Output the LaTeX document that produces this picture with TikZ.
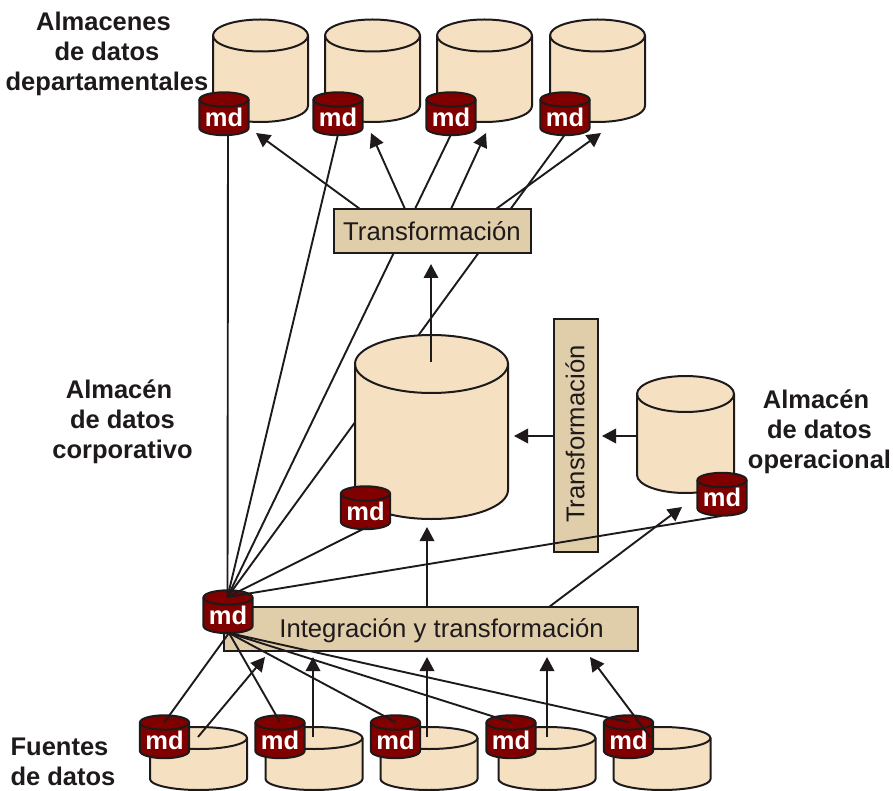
\documentclass[tikz,border=0pt]{standalone}
\usepackage{fontspec}
\setmainfont{Liberation Sans}
\usetikzlibrary{arrows.meta,calc}
\definecolor{cream}{HTML}{F5E1C2}
\definecolor{tanbox}{HTML}{E0CDAA}
\definecolor{mdred}{HTML}{800000}
\definecolor{ink}{HTML}{1E1A1B}
\tikzset{
  link/.style={draw=ink,line width=1.9pt},
  flow/.style={draw=ink,line width=1.9pt,-{Triangle[length=14pt,width=14.5pt,fill=ink]}},
  outline/.style={draw=ink,line width=2pt,line join=round},
  procbox/.style={draw=ink,line width=2pt,fill=tanbox,text=ink,inner sep=0pt,font=\fontsize{25.7}{30}\selectfont},
  caption/.style={align=center,text=ink,inner sep=0pt,font=\fontsize{25.5}{30}\selectfont\bfseries}
}
% \cyl{name}{cx}{ytop}{ybottom}{rx}{ry}{fill}
\newcommand{\cyl}[7]{%
  \pgfmathsetmacro{\xl}{#2-#5}\pgfmathsetmacro{\xr}{#2+#5}%
  \pgfmathsetmacro{\kx}{0.5523*#5}\pgfmathsetmacro{\ky}{0.5523*#6}%
  \pgfmathsetmacro{\xla}{#2-\kx}\pgfmathsetmacro{\xra}{#2+\kx}%
  \pgfmathsetmacro{\tu}{#3-#6}\pgfmathsetmacro{\td}{#3+#6}\pgfmathsetmacro{\bd}{#4+#6}%
  \pgfmathsetmacro{\tua}{#3-\ky}\pgfmathsetmacro{\tda}{#3+\ky}\pgfmathsetmacro{\bda}{#4+\ky}%
  \path[outline,fill=#7] (\xl,#3) -- (\xl,#4)
    .. controls (\xl,\bda) and (\xla,\bd) .. (#2,\bd)
    .. controls (\xra,\bd) and (\xr,\bda) .. (\xr,#4)
    -- (\xr,#3)
    .. controls (\xr,\tua) and (\xra,\tu) .. (#2,\tu)
    .. controls (\xla,\tu) and (\xl,\tua) .. (\xl,#3) -- cycle;
  \path[outline] (\xl,#3)
    .. controls (\xl,\tda) and (\xla,\td) .. (#2,\td)
    .. controls (\xra,\td) and (\xr,\tda) .. (\xr,#3);
  \pgfmathsetmacro{\cy}{(\tu+\bd)/2}%
  \pgfmathsetmacro{\hh}{\bd-\tu}\pgfmathsetmacro{\ww}{2*#5}%
  \node[inner sep=0pt,minimum width=\ww pt,minimum height=\hh pt] (#1) at (#2,\cy) {};
}
% \mdcyl{name}{cx}{ytop-of-shape}
\newcommand{\mdcyl}[3]{%
  \pgfmathsetmacro{\ya}{#3+7.5}\pgfmathsetmacro{\yb}{#3+36}\pgfmathsetmacro{\yt}{#3+25}%
  \cyl{#1}{#2}{\ya}{\yb}{24.6}{7.2}{mdred}%
  \node[inner sep=0pt,text=white,font=\fontsize{25.5}{30}\selectfont\bfseries] (#1txt) at (#2,\yt) {md};
}
\begin{document}
\begin{tikzpicture}[x=1pt,y=-1pt]
\useasboundingbox (0,0) rectangle (893,791);

% integration box and central metadata
\node[procbox,minimum width=414pt,minimum height=44pt,anchor=north west,text depth=0pt] (integ) at (223,606) {};
\node[text=ink,inner sep=0pt,font=\fontsize{25.7}{30}\selectfont] (integtxt) at (441.5,630.5) {Integración y transformación};
\mdcyl{mdC}{228}{590}
\coordinate (hubIn) at (227.5,597);
\coordinate (hubOut) at (229,633);

% top data marts
\cyl{dm1}{260.5}{35.5}{106}{47.5}{16}{cream}
\cyl{dm2}{372.5}{35.5}{106}{47.5}{16}{cream}
\cyl{dm3}{484.5}{35.5}{106}{47.5}{16}{cream}
\cyl{dm4}{597.5}{35.5}{106}{47.5}{16}{cream}
\mdcyl{md1}{224}{92}
\mdcyl{md2}{338}{92}
\mdcyl{md3}{451}{92}
\mdcyl{md4}{565}{92}
\draw[link] ($(md1.south)+(4,-1)$) -- (hubIn);
\draw[link] ($(md2.south)+(0,-1)$) -- (hubIn);
\draw[link] ($(md3.south)+(0,-1)$) -- (hubIn);
\draw[link] ($(md4.south)+(0,-1)$) -- (hubIn);

% upper transformation
\node[procbox,minimum width=197pt,minimum height=44pt,anchor=north west] (transT) at (332.5,208.5) {};
\node[text=ink,inner sep=0pt,font=\fontsize{25.7}{30}\selectfont] (transTtxt) at (432,231) {Transformación};
\coordinate (tip1) at (256,133);
\coordinate (tip2) at (371,133);
\coordinate (tip3) at (486,133);
\coordinate (tip4) at (601,133);
\coordinate (s1) at (360,209);
\coordinate (s2) at (405,209);
\coordinate (s3) at (451,209);
\coordinate (s4) at (496,209);
\draw[flow] (s1) -- (tip1);
\draw[flow] (s2) -- (tip2);
\draw[flow] (s3) -- (tip3);
\draw[flow] (s4) -- (tip4);

% corporate warehouse
\cyl{dw}{431.5}{364}{490}{76.5}{29}{cream}
\mdcyl{mdW}{365.5}{486}
\coordinate (dwOut) at (431,362);
\coordinate (dwTip) at (431,264);
\draw[flow] (dwOut) -- (dwTip);
\draw[link] ($(mdW.south)+(1,-2)$) -- (hubIn);
\coordinate (dwIn) at (427,527);
\draw[flow] (integ.north -| dwIn) -- (dwIn);

% operational store and side transformation
\node[procbox,minimum width=44pt,minimum height=233pt,anchor=north west] (transS) at (553,317.5) {};
\node[text=ink,inner sep=0pt,rotate=90,font=\fontsize{25.7}{30}\selectfont] (transStxt) at (575,434) {Transformación};
\cyl{ods}{685.5}{394}{475}{48.5}{18}{cream}
\mdcyl{mdO}{722}{472.5}
\coordinate (tipA) at (514,436);
\coordinate (tipB) at (602,436);
\coordinate (tipC) at (682,507);
\coordinate (startC) at (549,607);
\coordinate (odsL) at (637,436);
\draw[flow] (transS.west |- tipA) -- (tipA);
\draw[flow] (odsL) -- (tipB);
\draw[link] ($(mdO.south)+(0,0)$) -- (hubIn);
\draw[flow] (startC) -- (tipC);

% sources
\cyl{src1}{198.5}{738}{779}{48.5}{11}{cream}
\cyl{src2}{314}{738}{779}{48.5}{11}{cream}
\cyl{src3}{429}{738}{779}{48.5}{11}{cream}
\cyl{src4}{547}{738}{779}{48.5}{11}{cream}
\cyl{src5}{662}{738}{779}{48.5}{11}{cream}
\mdcyl{mdS1}{164.5}{715}
\mdcyl{mdS2}{280}{715}
\mdcyl{mdS3}{395.5}{715}
\mdcyl{mdS4}{511}{715}
\mdcyl{mdS5}{628.5}{715}
\draw[link] (hubOut) -- ($(mdS1.north)+(0,7)$);
\draw[link] (hubOut) -- ($(mdS2.north)+(0,7)$);
\draw[link] (hubOut) -- ($(mdS3.north)+(0,7)$);
\draw[link] (hubOut) -- ($(mdS4.north)+(0,7)$);
\draw[link] (hubOut) -- ($(mdS5.north)+(0,7)$);
\coordinate (u1) at (198,737); \coordinate (v1) at (265,657);
\coordinate (u2) at (313,737); \coordinate (v2) at (313,657);
\coordinate (u3) at (427,737); \coordinate (v3) at (427,657);
\coordinate (u4) at (547,737); \coordinate (v4) at (547,657);
\coordinate (u5) at (650,737); \coordinate (v5) at (590,657);
\draw[flow] (u1) -- (v1);
\draw[flow] (u2) -- (v2);
\draw[flow] (u3) -- (v3);
\draw[flow] (u4) -- (v4);
\draw[flow] (u5) -- (v5);

% captions
\node[caption] (capA) at (107,54) {Almacenes\hspace*{7pt}\\de datos\hspace*{3pt}\\departamentales};
\node[caption] (capB) at (122.5,422) {Almacén\hspace*{7pt}\\de datos\hspace*{3pt}\\corporativo};
\node[caption] (capC) at (819.5,432) {Almacén\hspace*{7pt}\\de datos\hspace*{3pt}\\operacional};
\node[caption] (capD) at (63,762) {Fuentes\hspace*{7pt}\\de datos};
\end{tikzpicture}
\end{document}
